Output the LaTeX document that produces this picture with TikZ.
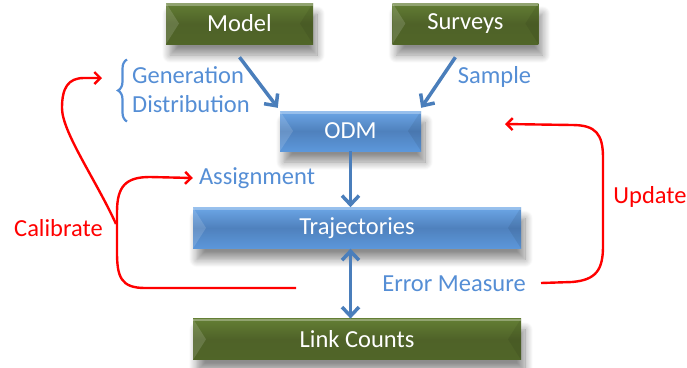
\documentclass[tikz,border=0pt]{standalone}
\usepackage{fontspec}
\setmainfont{Carlito}
\usepackage{xcolor}
\usepackage{tikz}
\usetikzlibrary{positioning,arrows.meta,decorations.pathreplacing,shadows.blur}

\definecolor{greentop}{HTML}{637E34}
\definecolor{greenmid}{HTML}{4F6228}
\definecolor{greenbot}{HTML}{506528}
\definecolor{bluetop}{HTML}{6CA6E6}
\definecolor{bluemid}{HTML}{4F81BD}
\definecolor{bluebot}{HTML}{5C97DA}
\definecolor{blueedge}{HTML}{8DD6F8}
\definecolor{lblblue}{HTML}{558ED5}
\definecolor{arrblue}{HTML}{4A7EBB}

\begin{document}
\begin{tikzpicture}[x=1pt, y=1pt,
        bevelbox/.style={rectangle, text=white, font=\fontsize{24.5}{29}\selectfont, minimum height=41pt, inner sep=0pt,
            blur shadow={shadow xshift=4pt, shadow yshift=-11pt, shadow blur radius=8pt, shadow blur steps=12, shadow opacity=45},
            path picture={
                \fill[white, opacity=.14] (path picture bounding box.south west) -- (path picture bounding box.north west) -- ([xshift=13pt]path picture bounding box.west) -- cycle;
                \fill[black, opacity=.07] (path picture bounding box.south east) -- (path picture bounding box.north east) -- ([xshift=-13pt]path picture bounding box.east) -- cycle;
                \fill[white, opacity=.30] (path picture bounding box.north west) rectangle ([yshift=-2.5pt]path picture bounding box.north east);
            }},
        greenbox/.style={bevelbox, top color=greentop, bottom color=greenbot, middle color=greenmid},
        bluebox/.style={bevelbox, top color=bluetop, bottom color=bluebot, middle color=bluemid},
        lbl/.style={text=lblblue, font=\fontsize{24.5}{29}\selectfont, inner sep=2pt},
        redlbl/.style={lbl, text=red},
        bluearrow/.style={draw=arrblue, line width=3.5pt, -{Straight Barb[length=9pt,width=17pt]}},
        bothways/.style={bluearrow, {Straight Barb[length=9pt,width=17pt]}-{Straight Barb[length=9pt,width=17pt]}},
        redarrow/.style={draw=red, line width=2.4pt, -{Straight Barb[length=6pt,width=12pt]}}
    ]
        \useasboundingbox (0,0) rectangle (687,-367);

        \node[greenbox, minimum width=147pt] (model) at (239.5,-23.5) {Model};
        \node[greenbox, minimum width=146pt, right=79pt of model] (surveys) {Surveys};
        \node[bluebox, minimum width=141pt, minimum height=40pt] (odm) at (350.5,-131) {ODM};
        \node[bluebox, minimum width=328pt, below=56pt of odm, xshift=6.5pt] (traj) {Trajectories};
        \node[greenbox, minimum width=328pt, below=70pt of traj] (link) {Link Counts};

        \node[lbl, align=left, anchor=west] (gen) at (130,-89.5) {Generation\\Distribution};
        \node[lbl] (sample) at (494.5,-77) {Sample};
        \node[lbl] (assign) at (257,-178) {Assignment};
        \node[lbl] (err) at (454,-284) {Error Measure};
        \node[redlbl] (calib) at (58.5,-228) {Calibrate};
        \node[redlbl] (update) at (650,-197) {Update};

        % brace in front of the generation / distribution text
        \draw[lblblue, line width=2.2pt, decorate, decoration={brace, amplitude=9pt}]
            ([xshift=-3pt,yshift=-32pt]gen.west) -- ([xshift=-3pt,yshift=30pt]gen.west);

        \draw[bluearrow] ([yshift=-13pt]model.south) -- ([xshift=-2pt,yshift=3pt]odm.north west);
        \draw[bluearrow] ([xshift=-10pt,yshift=-13pt]surveys.south) -- ([xshift=0pt,yshift=3pt]odm.north east);
        \draw[bluearrow] (odm.south) -- (odm.south |- traj.north);
        \draw[bothways] ([xshift=-6.5pt]traj.south) -- ([xshift=-6.5pt]link.north);

        % feedback loops
        \coordinate (calstart) at (296,-288);
        \coordinate (calfork) at (116,-224);
        \coordinate (genarr) at (102,-78);
        \coordinate (updstart) at (541,-283);
        \coordinate (updarr) at (505,-124);

        \draw[redarrow] (calstart) -- (145,-288) .. controls (121,-288) and (117,-277) .. (117,-252)
            -- (117,-212) .. controls (117,-186) and (126,-177) .. (150,-177) -- ([xshift=-4pt]assign.west);
        \draw[redarrow] (calfork) .. controls (96,-180) and (62,-132) .. (62,-108)
            .. controls (62,-88) and (68,-78) .. (84,-78) -- (genarr);
        \draw[redarrow] (updstart) -- (572,-282) .. controls (596,-280) and (603,-270) .. (603,-246)
            -- (603,-158) .. controls (603,-134) and (596,-125) .. (572,-125) -- (updarr);
    \end{tikzpicture}
\end{document}
